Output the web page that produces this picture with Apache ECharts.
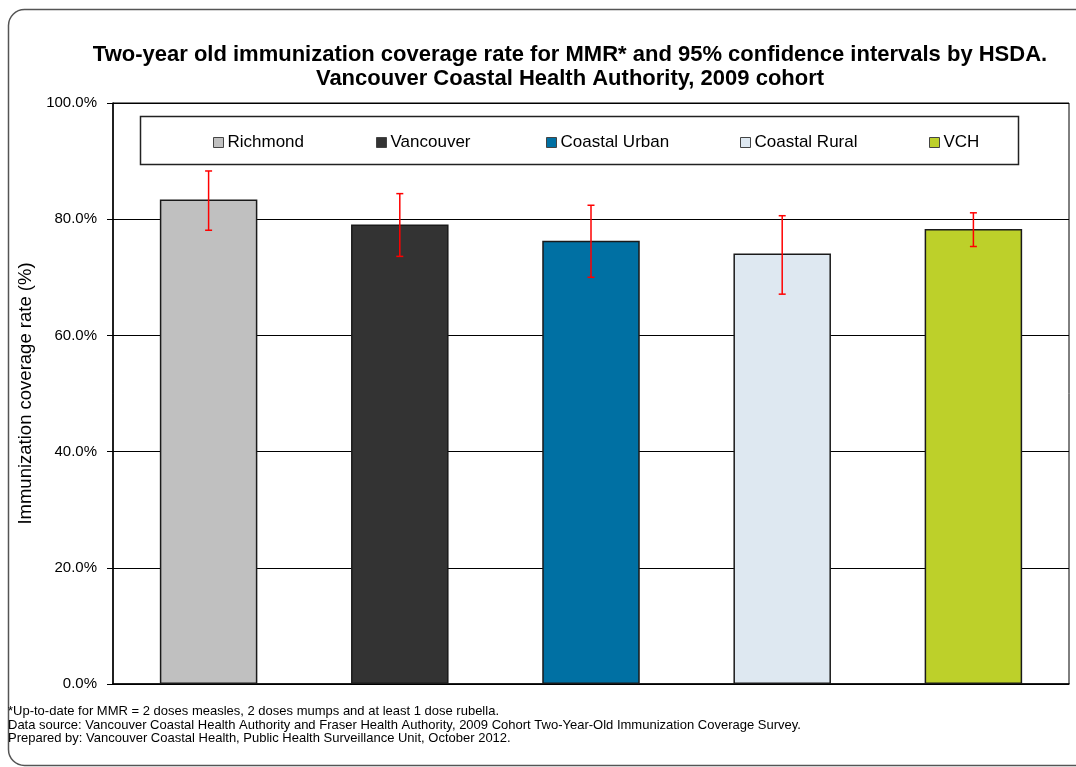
<!DOCTYPE html>
<html>
<head>
<meta charset="utf-8">
<script src="https://cdn.jsdelivr.net/npm/echarts@6/dist/echarts.min.js"></script>
<style>
html,body{margin:0;padding:0;background:#fff;}
#chart{width:1076px;height:767px;}
</style>
</head>
<body>
<div id="chart"></div>
<script>
var categories = ['Richmond', 'Vancouver', 'Coastal Urban', 'Coastal Rural', 'VCH'];
var coverage = [83.4, 79.1, 76.3, 74.1, 78.3];
var ciLow = [78.1, 73.6, 70.0, 67.1, 75.3];
var ciHigh = [88.3, 84.4, 82.4, 80.6, 81.1];
var yTicks = [0, 20, 40, 60, 80, 100];
var colors = ['#C0C0C0', '#333333', '#0070A3', '#DEE8F1', '#BDD02A'];
var legendLeft = [213, 376, 546, 740, 929];

var chart = echarts.init(document.getElementById('chart'));
var FONT = '"Liberation Sans", Arial, sans-serif';

var series = categories.map(function (name, i) {
  return {
    name: name,
    type: 'bar',
    stack: 'all',
    barWidth: '51%',
    data: categories.map(function (c, j) { return j === i ? coverage[i] : '-'; }),
    itemStyle: { color: colors[i], borderColor: '#1a1a1a', borderWidth: 1.5 },
    emphasis: { disabled: true },
    z: 2
  };
});

series.push({
  type: 'custom',
  name: 'ci',
  z: 5,
  data: categories.map(function (c, i) { return [i, ciLow[i], ciHigh[i]]; }),
  renderItem: function (params, api) {
    var lo = api.coord([api.value(0), api.value(1)]);
    var hi = api.coord([api.value(0), api.value(2)]);
    var hw = 3.5;
    var st = { stroke: '#FF0000', lineWidth: 1.5 };
    return {
      type: 'group',
      children: [
        { type: 'line', shape: { x1: lo[0], y1: lo[1], x2: hi[0], y2: hi[1] }, style: st },
        { type: 'line', shape: { x1: lo[0] - hw, y1: lo[1], x2: lo[0] + hw, y2: lo[1] }, style: st },
        { type: 'line', shape: { x1: hi[0] - hw, y1: hi[1], x2: hi[0] + hw, y2: hi[1] }, style: st }
      ]
    };
  }
});

var legends = categories.map(function (name, i) {
  return {
    left: legendLeft[i],
    top: 134,
    data: [name],
    icon: 'rect',
    itemWidth: 10,
    itemHeight: 10,
    selectedMode: false,
    padding: 0,
    itemStyle: { borderColor: '#444', borderWidth: 1 },
    textStyle: { fontFamily: FONT, fontSize: 17, color: '#000', padding: [0, 0, 0, -1] }
  };
});

var option = {
  animation: false,
  backgroundColor: '#fff',
  textStyle: { fontFamily: FONT },
  title: {
    text: 'Two-year old immunization coverage rate for MMR* and 95% confidence intervals by HSDA.\nVancouver Coastal Health Authority, 2009 cohort',
    left: 565,
    textAlign: 'center',
    top: 38,
    textStyle: { fontFamily: FONT, fontSize: 22, fontWeight: 'bold', color: '#000', lineHeight: 24 }
  },
  legend: legends,
  grid: {
    left: 113, right: 7, top: 103, bottom: 83,
    show: true, borderColor: '#000', borderWidth: 1, backgroundColor: 'transparent'
  },
  xAxis: {
    type: 'category',
    data: categories,
    axisLine: { lineStyle: { color: '#000', width: 1.5 } },
    axisTick: { show: false },
    axisLabel: { show: false }
  },
  yAxis: {
    type: 'value',
    min: yTicks[0],
    max: yTicks[yTicks.length - 1],
    interval: yTicks[1] - yTicks[0],
    name: 'Immunization coverage rate (%)',
    nameLocation: 'middle',
    nameGap: 61,
    nameTextStyle: { fontFamily: FONT, fontSize: 18.5, color: '#000' },
    axisLine: { show: true, lineStyle: { color: '#000', width: 1.5 } },
    axisTick: { show: true, length: 6, lineStyle: { color: '#000' } },
    axisLabel: {
      margin: 16, fontFamily: FONT, fontSize: 15, color: '#000',
      formatter: function (v) { return v.toFixed(1) + '%'; }
    },
    splitLine: { lineStyle: { color: '#000', width: 1 } }
  },
  graphic: [
    {
      type: 'rect', silent: true, z: -10,
      shape: { x: 8.5, y: 9.5, width: 1110, height: 756, r: 16 },
      style: { fill: 'none', stroke: '#555', lineWidth: 1.5 }
    },
    {
      type: 'rect', silent: true, z: 10,
      shape: { x: 140.5, y: 116.5, width: 878, height: 48 },
      style: { fill: 'none', stroke: '#222', lineWidth: 1.5 }
    },
    {
      type: 'text', left: 8, top: 705, silent: true,
      style: {
        text: '*Up-to-date for MMR = 2 doses measles, 2 doses mumps and at least 1 dose rubella.\nData source: Vancouver Coastal Health Authority and Fraser Health Authority, 2009 Cohort Two-Year-Old Immunization Coverage Survey.\nPrepared by: Vancouver Coastal Health, Public Health Surveillance Unit, October 2012.',
        font: '13px "Liberation Sans", Arial, sans-serif',
        lineHeight: 13.5,
        fill: '#000'
      }
    }
  ],
  series: series
};
chart.setOption(option);
</script>
</body>
</html>
